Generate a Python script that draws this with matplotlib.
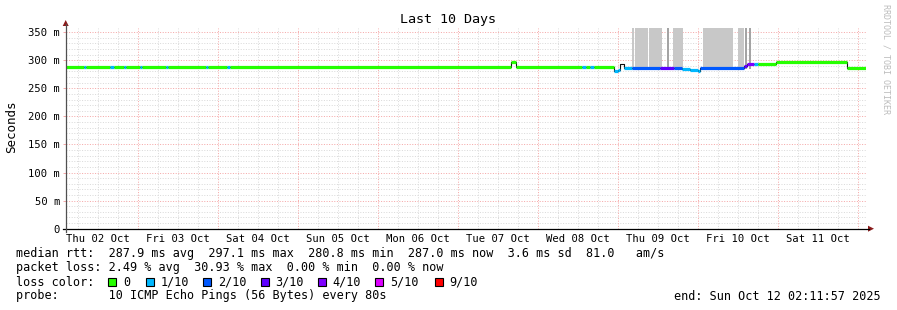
import matplotlib
matplotlib.use("Agg")
import matplotlib.pyplot as plt
from matplotlib.patches import Rectangle, Polygon
from matplotlib.lines import Line2D
from matplotlib.ticker import FuncFormatter

plt.rcParams['font.family'] = ['DejaVu Sans Mono']

W, H = 897, 310

# x axis: day of month (Oct 2025), fractional days
t_start = 2.0916
t_end = 12.0916

# median rtt as steps: segment start, median (ms), lost pings of 10 (-1 = no colour)
seg_start = [2.09, 2.325, 2.35, 2.65, 2.69, 2.825, 2.85, 3.025, 3.05, 3.35, 3.375,
             3.85, 3.875, 4.11, 4.14, 7.66, 7.725, 8.54, 8.6, 8.64, 8.69, 8.94,
             9.0, 9.025, 9.075, 9.175, 9.525, 9.69, 9.8, 9.9, 9.99, 10.025,
             10.575, 10.61, 10.69, 10.74, 10.975, 11.86]
seg_median = [287.2, 287.2, 287.2, 287.2, 287.2, 287.2, 287.2, 287.2, 287.2, 287.2, 287.2,
              287.2, 287.2, 287.2, 287.2, 297.1, 287.2, 287.2, 287.2, 287.2, 287.2, 280.8,
              283.0, 293.0, 285.4, 286.2, 286.2, 286.2, 285.0, 283.0, 281.2, 286.2,
              290.0, 294.0, 294.0, 294.0, 296.8, 287.0]
seg_loss = [0, 1, 0, 1, 0, 1, 0, 1, 0, 1, 0,
            1, 0, 1, 0, 0, 0, 1, 0, 1, 0, 1,
            1, -1, 1, 2, 3, 2, 1, 1, 1, 2,
            3, 4, 1, 0, 0, 0]

# smoke (rtt spread) bars
smoke_start = [9.175, 9.2125, 9.3875, 9.6125, 9.6875, 10.0625, 10.5, 10.5875, 10.6375]
smoke_end = [9.194, 9.375, 9.544, 9.6375, 9.8125, 10.4375, 10.575, 10.609, 10.659]
smoke_dark = [False, False, False, True, False, False, False, True, True]
smoke_low = 284.0
smoke_high = 420.0

day_centers = [2.5, 3.5, 4.5, 5.5, 6.5, 7.5, 8.5, 9.5, 10.5, 11.5]
day_labels = ["Thu 02 Oct", "Fri 03 Oct", "Sat 04 Oct", "Sun 05 Oct", "Mon 06 Oct",
              "Tue 07 Oct", "Wed 08 Oct", "Thu 09 Oct", "Fri 10 Oct", "Sat 11 Oct"]

y_max = 357
y_ticks = [0, 50, 100, 150, 200, 250, 300, 350]

loss_levels = [0, 1, 2, 3, 4, 5, 9]
loss_labels = ["0", "1/10", "2/10", "3/10", "4/10", "5/10", "9/10"]
loss_colors = ["#26ff00", "#00b8ff", "#0059ff", "#5e00ff", "#7e00ff", "#dd00ff", "#ff0000"]

rtt_line = "median rtt:  287.9 ms avg  297.1 ms max  280.8 ms min  287.0 ms now  3.6 ms sd  81.0   am/s"
loss_line = "packet loss: 2.49 % avg  30.93 % max  0.00 % min  0.00 % now"
probe_line = "probe:       10 ICMP Echo Pings (56 Bytes) every 80s"
end_line = "end: Sun Oct 12 02:11:57 2025"

color_of = dict(zip(loss_levels, loss_colors))


def fx(x):
    return x / W


def fy(y):
    return 1 - y / H


fig = plt.figure(figsize=(W / 100, H / 100), dpi=100)
fig.patch.set_facecolor("white")

left, right, bottom, top = 65.7, 865.7, 228.7, 28.2
ax = fig.add_axes([fx(left), fy(bottom), (right - left) / W, (bottom - top) / H])
ax.set_xlim(t_start, t_end)
ax.set_ylim(0, y_max)
for s in ax.spines.values():
    s.set_visible(False)

# grid, dotted like rrdtool
minor_c, major_c = "#dadada", "#f5a8a8"
gkw = dict(lw=0.72, ls=(0, (1, 1.6)))
q = 2.25
while q < t_end:
    if abs(q - round(q)) > 1e-6:
        ax.axvline(q, color=minor_c, zorder=0, **gkw)
    q += 0.25
for d in range(3, 13):
    ax.axvline(d, color=major_c, zorder=0.5, **gkw)
for v in range(10, y_max, 10):
    if v % 50:
        ax.axhline(v, color=minor_c, zorder=0, **gkw)
for v in y_ticks[1:]:
    ax.axhline(v, color=major_c, zorder=0.5, **gkw)

# smoke
for a, b, dk in zip(smoke_start, smoke_end, smoke_dark):
    ax.bar(a, smoke_high - smoke_low, width=b - a, bottom=smoke_low, align="edge",
           color="#a4a4a4" if dk else "#c8c8c8", lw=0, zorder=1)

# median line
seg_end = seg_start[1:] + [t_end]
ax.step(seg_start + [t_end], seg_median + [seg_median[-1]], where="post",
        color="#101010", lw=0.8, zorder=2)
for a, b, m, l in zip(seg_start, seg_end, seg_median, seg_loss):
    if l < 0:
        continue
    ax.hlines(m, a, b, colors=color_of[l], lw=2.3, capstyle="butt", zorder=3)

# ticks
ax.set_xticks(day_centers)
ax.set_xticklabels(day_labels)
ax.set_yticks(y_ticks)
ax.yaxis.set_major_formatter(FuncFormatter(lambda v, p: "0" if v == 0 else "%d m" % v))
ax.tick_params(axis="x", length=0, pad=4.0, labelsize=7.6)
ax.tick_params(axis="y", length=2, width=0.7, color=major_c, pad=2.0, labelsize=7.6)

# axes lines and arrows
fig.add_artist(Line2D([fx(62.5), fx(869)], [fy(bottom), fy(bottom)], color="black", lw=0.9))
fig.add_artist(Line2D([fx(left), fx(left)], [fy(bottom + 3), fy(24)], color="#505050", lw=0.9))
arrow_c = "#8b1c1c"
fig.add_artist(Polygon([[fx(868), fy(bottom - 3)], [fx(868), fy(bottom + 3)], [fx(874), fy(bottom)]],
                       closed=True, color=arrow_c, lw=0))
fig.add_artist(Polygon([[fx(left - 3), fy(26)], [fx(left + 3), fy(26)], [fx(left), fy(20)]],
                       closed=True, color=arrow_c, lw=0))

# title, axis label, watermark
fig.text(fx(448), fy(19), "Last 10 Days", ha="center", va="center", size=9.6)
fig.text(fx(11.5), fy(127), "Seconds", ha="center", va="center", rotation=90, size=9.0)
fig.text(fx(886), fy(4), "RRDTOOL / TOBI OETIKER", ha="center", va="top", rotation=270,
         size=6.0, color="#bcbcbc")

# legend block
fs = 8.5
fig.text(fx(16), fy(254), rtt_line, va="center", size=fs)
fig.text(fx(16), fy(268), loss_line, va="center", size=fs)
fig.text(fx(16), fy(282), "loss color:", va="center", size=fs)
fig.text(fx(16), fy(296), probe_line, va="center", size=fs)
fig.text(fx(881), fy(296), end_line, ha="right", va="center", size=fs)

box_x = [108.3] + [146.0 + 57.3 * i for i in range(len(loss_labels) - 1)]
box_x[-1] += 2.5
for bx, lab, col in zip(box_x, loss_labels, loss_colors):
    fig.add_artist(Rectangle((fx(bx), fy(286)), 8 / W, 8 / H, facecolor=col,
                             edgecolor="black", lw=0.8))
    fig.text(fx(bx + 14.5), fy(282), lab, va="center", size=fs)

fig.savefig("out.png", dpi=100, facecolor="white")
